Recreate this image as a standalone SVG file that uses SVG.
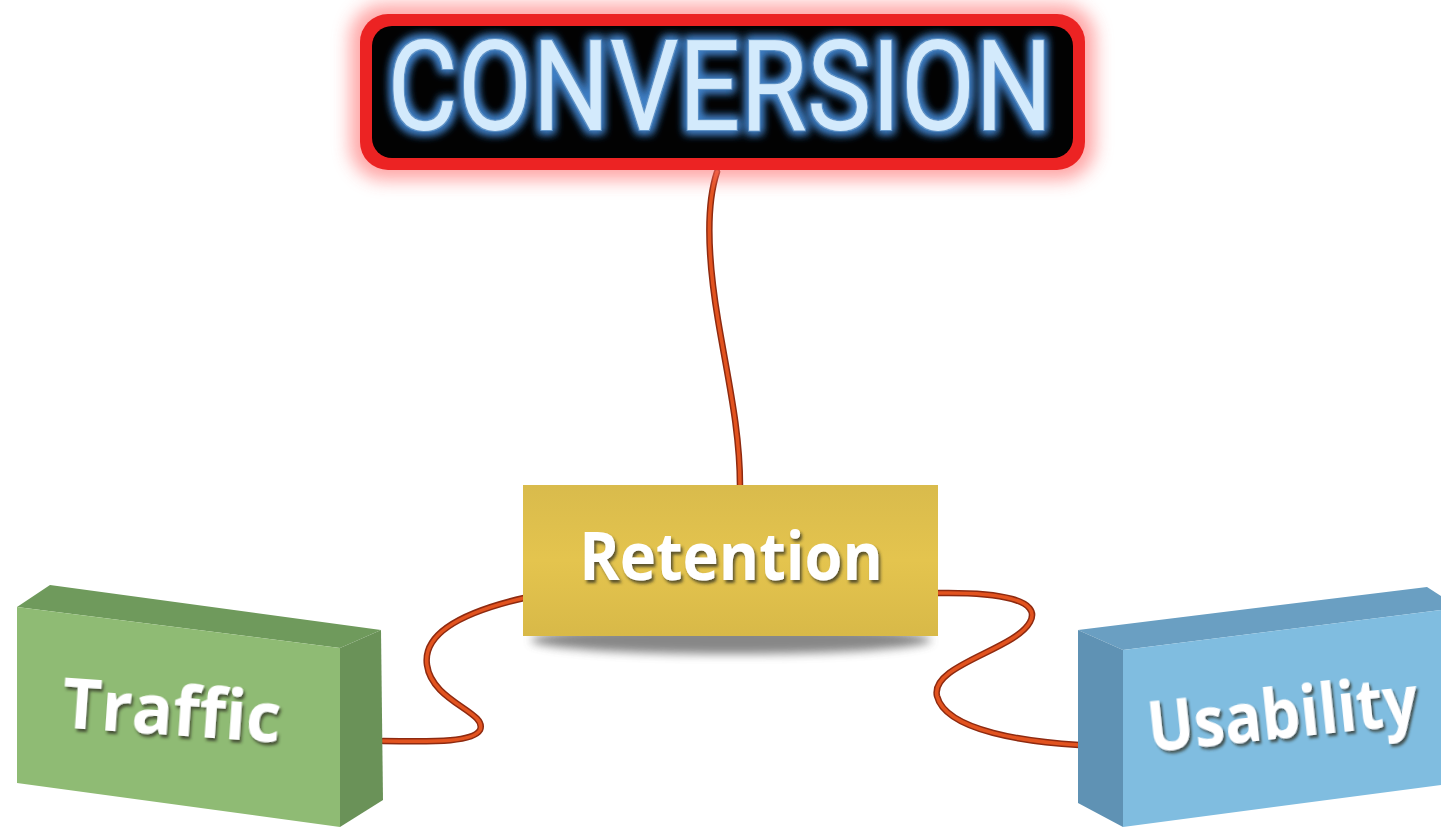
<svg xmlns="http://www.w3.org/2000/svg" width="1441" height="829" viewBox="0 0 1441 829">
  <defs>
    <style>
      .wire { fill: none; stroke-linecap: round; }
      .wire-edge { stroke: #8e2a10; stroke-width: 6.5; }
      .wire-core { stroke: #e2531f; stroke-width: 3.5; }
      .label { font-family: "Open Sans", "Liberation Sans", sans-serif; font-weight: 700; fill: #ffffff; filter: url(#labelShadow); text-anchor: middle; }
      .neon { font-family: Roboto, "Liberation Sans", sans-serif; font-weight: 400; fill: #d3eafc; filter: url(#neonGlow); text-anchor: middle; }
    </style>
    <filter id="redGlow" filterUnits="userSpaceOnUse" x="300" y="-40" width="850" height="260">
      <feGaussianBlur stdDeviation="9"/>
    </filter>
    <!-- blue halo behind the sign lettering, with a thin darker rim -->
    <filter id="neonGlow" x="-20%" y="-40%" width="140%" height="180%">
      <feMorphology in="SourceAlpha" operator="dilate" radius="3" result="fat"/>
      <feGaussianBlur in="fat" stdDeviation="5" result="blur"/>
      <feFlood flood-color="#3f7ec4"/>
      <feComposite in2="blur" operator="in" result="halo"/>
      <feMorphology in="SourceAlpha" operator="dilate" radius="1.2" result="rimShape"/>
      <feFlood flood-color="#5f93c6"/>
      <feComposite in2="rimShape" operator="in" result="rim"/>
      <feMerge>
        <feMergeNode in="halo"/>
        <feMergeNode in="halo"/>
        <feMergeNode in="rim"/>
        <feMergeNode in="SourceGraphic"/>
      </feMerge>
    </filter>
    <!-- dark embossed shadow for the block labels -->
    <filter id="labelShadow" x="-20%" y="-40%" width="140%" height="180%">
      <feGaussianBlur in="SourceAlpha" stdDeviation="1.5"/>
      <feOffset dx="2.5" dy="3" result="off"/>
      <feFlood flood-color="#2e2e20" flood-opacity="0.75"/>
      <feComposite in2="off" operator="in" result="shadow"/>
      <feMerge>
        <feMergeNode in="shadow"/>
        <feMergeNode in="SourceGraphic"/>
      </feMerge>
    </filter>
    <filter id="softShadow" filterUnits="userSpaceOnUse" x="480" y="600" width="500" height="90">
      <feGaussianBlur stdDeviation="5"/>
    </filter>
    <linearGradient id="goldFace" x1="0" y1="0" x2="0" y2="1">
      <stop offset="0" stop-color="#d9bb4c"/>
      <stop offset="0.5" stop-color="#e4c44e"/>
      <stop offset="1" stop-color="#d8b948"/>
    </linearGradient>
  </defs>

  <rect width="1441" height="829" fill="#ffffff"/>

  <!-- connectors -->
  <g id="connectors">
    <path class="wire wire-edge" d="M717,172 C706,205 708,260 718,320 C728,380 740,430 740,486"/>
    <path class="wire wire-core" d="M717,172 C706,205 708,260 718,320 C728,380 740,430 740,486"/>
    <path class="wire wire-edge" d="M524,598 C472,610 422,630 427,665 C432,702 488,712 480,730 C472,744 420,741 383,741"/>
    <path class="wire wire-core" d="M524,598 C472,610 422,630 427,665 C432,702 488,712 480,730 C472,744 420,741 383,741"/>
    <path class="wire wire-edge" d="M938,593 C1000,592 1042,600 1030,622 C1015,650 930,665 937,696 C946,732 1030,742 1079,745"/>
    <path class="wire wire-core" d="M938,593 C1000,592 1042,600 1030,622 C1015,650 930,665 937,696 C946,732 1030,742 1079,745"/>
  </g>

  <!-- top node: neon sign -->
  <g id="conversion">
    <rect x="350" y="4" width="745" height="176" rx="34" fill="#ff6b6b" opacity="0.6" filter="url(#redGlow)"/>
    <rect x="360" y="14" width="725" height="156" rx="28" fill="#ec2323"/>
    <rect x="372" y="26" width="701" height="132" rx="20" fill="#020202"/>
    <text class="neon" x="0" y="0" font-size="126" transform="translate(720 130) scale(0.86 1)">CONVERSION</text>
  </g>

  <!-- middle node -->
  <g id="retention">
    <ellipse cx="731" cy="640" rx="200" ry="14" fill="#555555" opacity="0.7" filter="url(#softShadow)"/>
    <rect x="523" y="485" width="415" height="151" fill="url(#goldFace)"/>
    <text class="label" x="0" y="0" font-size="66" transform="translate(731 580) scale(0.93 1)">Retention</text>
  </g>

  <!-- left node: box in perspective -->
  <g id="traffic">
    <polygon points="17,607 50,585 381,630 340,648" fill="#6f9a5c"/>
    <polygon points="340,648 381,630 383,800 340,827" fill="#6a9258"/>
    <polygon points="17,607 340,648 340,827 17,783" fill="#8fbb74"/>
    <text class="label" x="0" y="0" font-size="70" transform="translate(170 735) rotate(4) scale(0.97 1)">Traffic</text>
  </g>

  <!-- right node: box in perspective -->
  <g id="usability">
    <polygon points="1078,630 1427,587 1441,596 1441,610 1123,650" fill="#6a9fc2"/>
    <polygon points="1078,630 1123,650 1123,827 1078,803" fill="#5f92b4"/>
    <polygon points="1123,650 1441,610 1441,785 1123,827" fill="#80bde0"/>
    <text class="label" x="0" y="0" font-size="70" transform="translate(1285 738) rotate(-6) scale(0.88 1)">Usability</text>
  </g>
</svg>
